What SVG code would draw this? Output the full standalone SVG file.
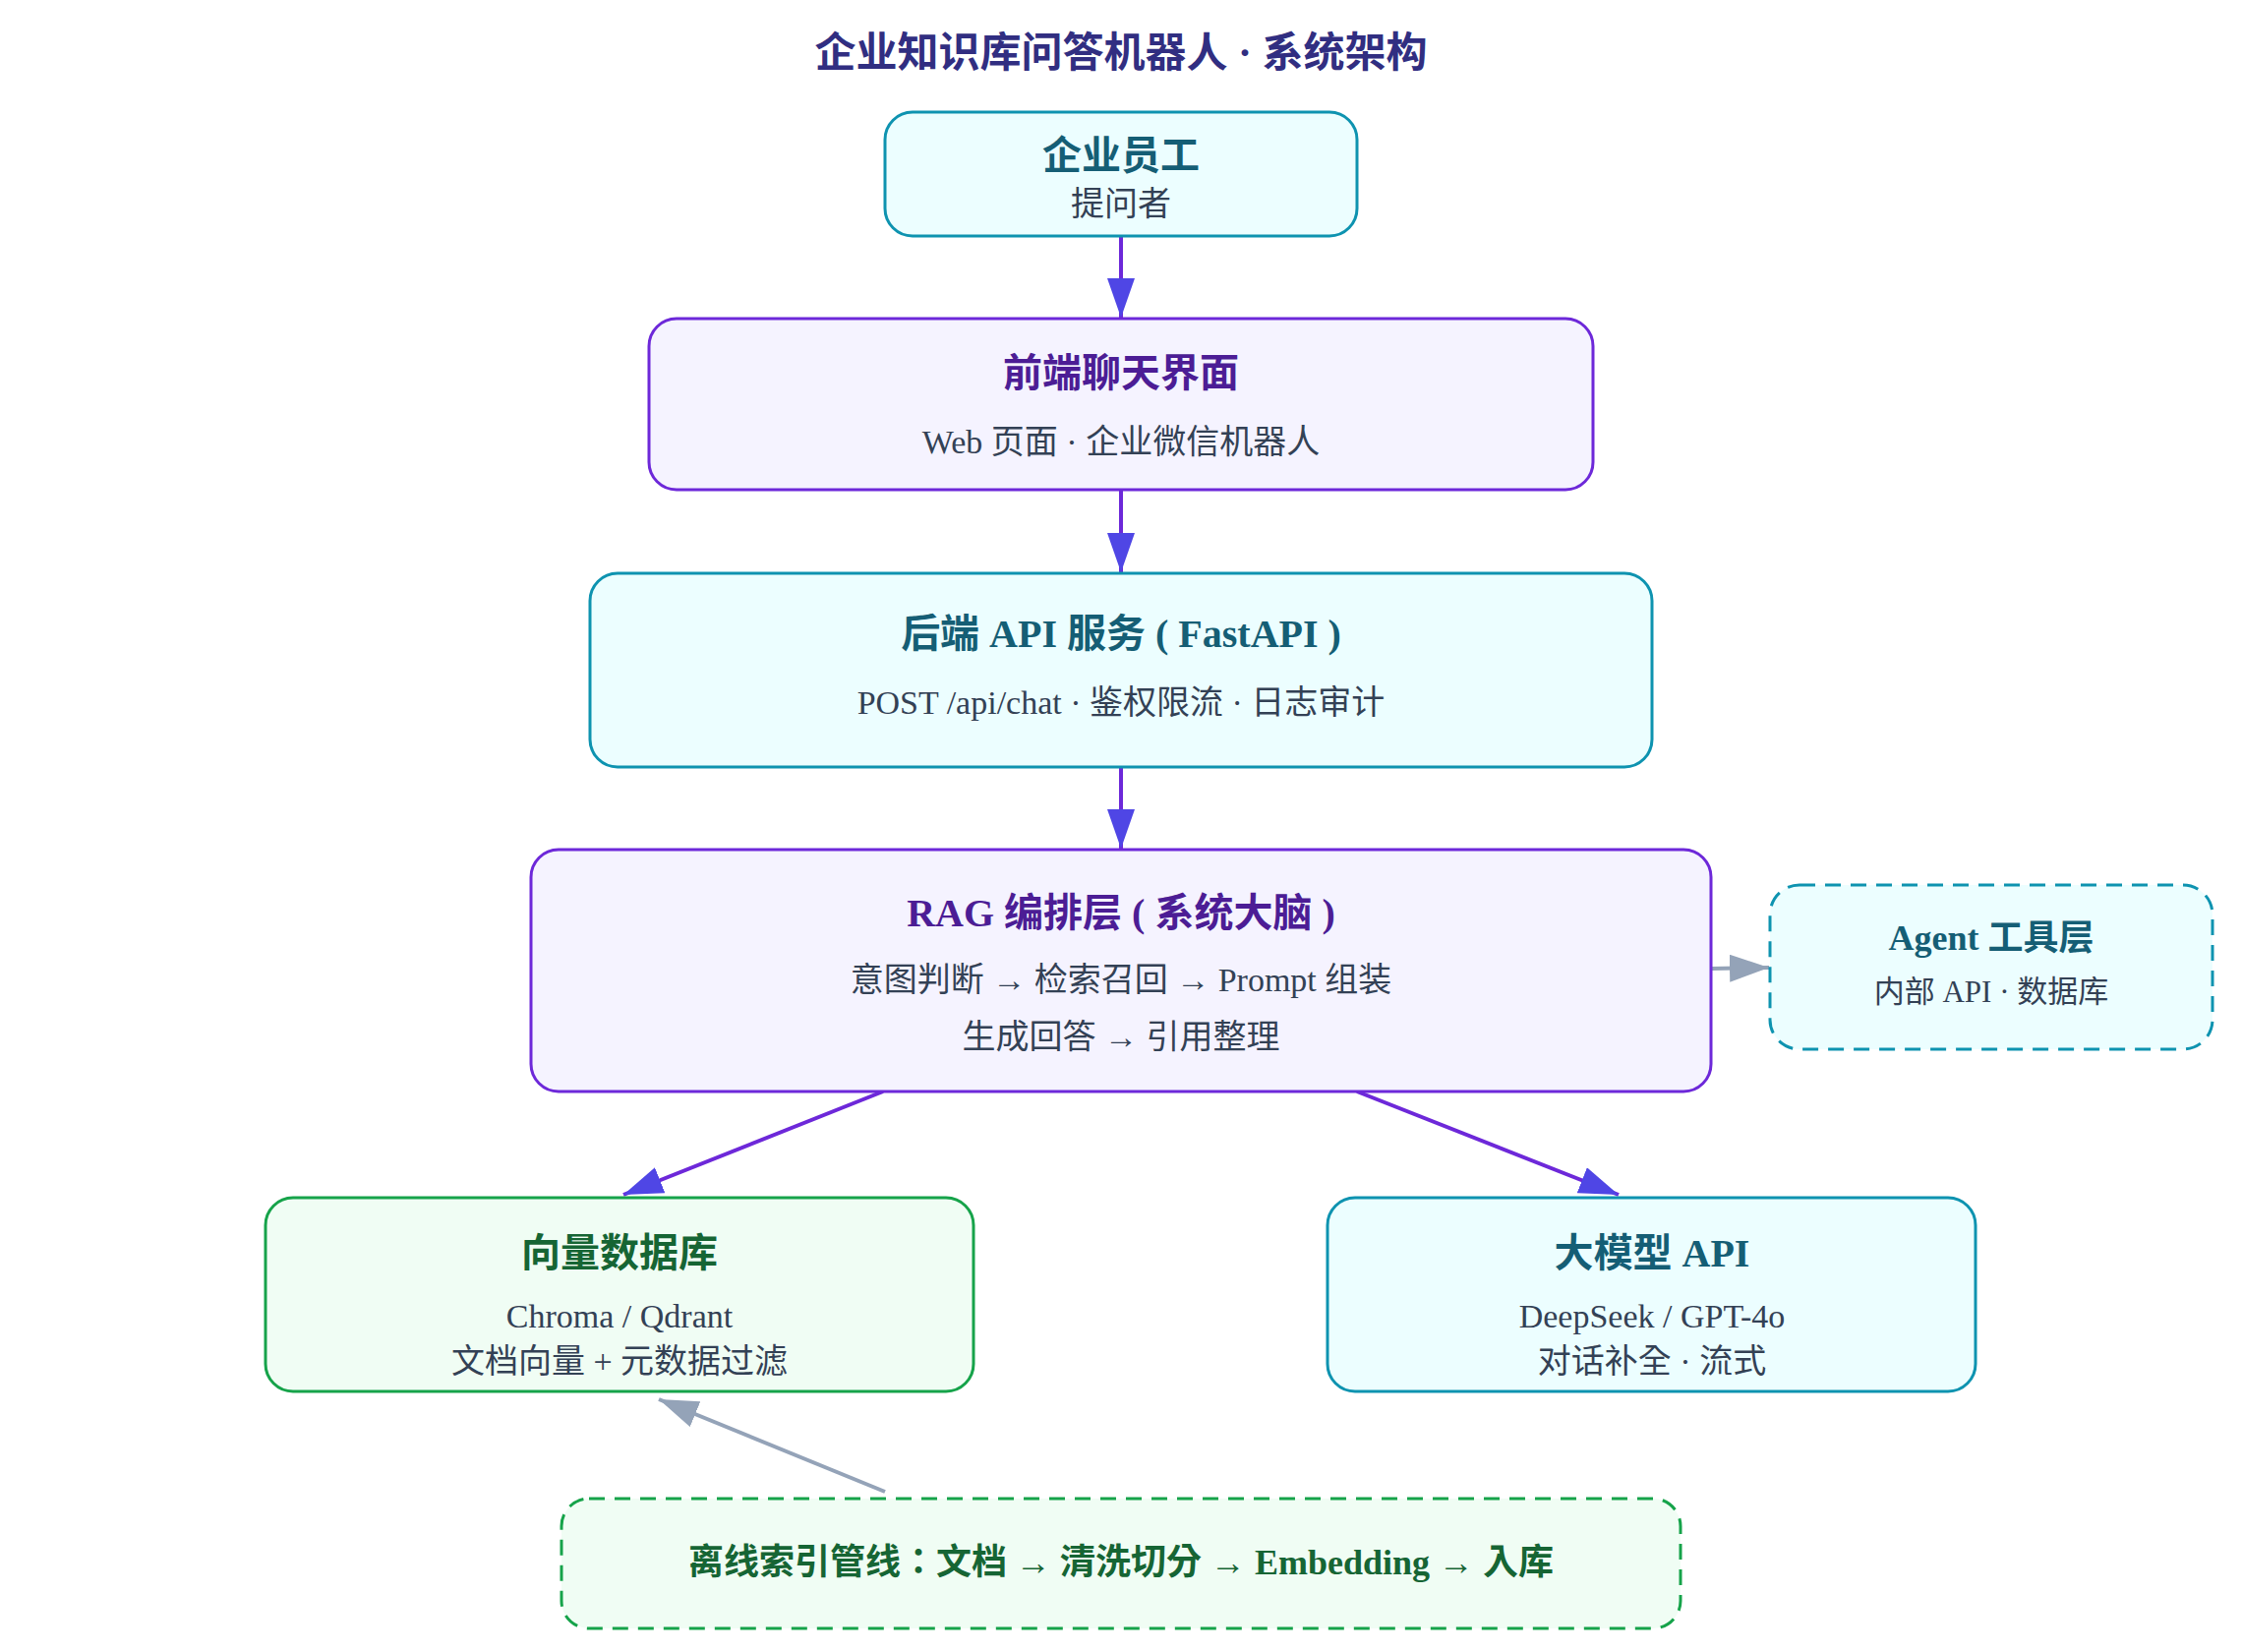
<svg xmlns="http://www.w3.org/2000/svg" width="2280" height="1680" viewBox="0 0 2280 1680">
<style>
text{font-family:"Liberation Serif","Noto Sans CJK TC",serif;text-anchor:middle}
.h{font-size:42px;font-weight:bold;fill:#312e81}
.t{font-size:40px;font-weight:bold}
.ta{font-size:36px;font-weight:bold}
.s{font-size:34px;fill:#334155}
.sa{font-size:31px;fill:#334155}
.teal rect{fill:#ecfeff;stroke:#0e93b0;stroke-width:3}
.teal .t,.teal .ta{fill:#155e75}
.purple rect{fill:#f5f3ff;stroke:#6d28d9;stroke-width:3}
.purple .t{fill:#4c1d95}
.green rect{fill:#f0fdf4;stroke:#16a34a;stroke-width:3}
.green .t,.green .ta{fill:#166534}
.dash rect{stroke-dasharray:16 10}
.main{stroke:#6d28d9;stroke-width:4;fill:none;marker-end:url(#am)}
.aux{stroke:#94a3b8;stroke-width:4;fill:none;marker-end:url(#ag)}
</style>
<defs>
<marker id="am" markerUnits="userSpaceOnUse" markerWidth="40" markerHeight="28" refX="40" refY="14" orient="auto"><path d="M0,0 L40,14 L0,28 z" fill="#4f46e5"/></marker>
<marker id="ag" markerUnits="userSpaceOnUse" markerWidth="40" markerHeight="28" refX="40" refY="14" orient="auto"><path d="M0,0 L40,14 L0,28 z" fill="#94a3b8"/></marker>
</defs>
<rect width="2280" height="1680" fill="#ffffff"/>
<text class="h" x="1140" y="68">企业知识库问答机器人 · 系统架构</text>
<g id="connectors">
<line class="main" x1="1140" y1="240" x2="1140" y2="323"/>
<line class="main" x1="1140" y1="498" x2="1140" y2="582"/>
<line class="main" x1="1140" y1="780" x2="1140" y2="863"/>
<line class="main" x1="898" y1="1110" x2="634" y2="1215"/>
<line class="main" x1="1380" y1="1110" x2="1646" y2="1215"/>
<line class="aux" x1="1741" y1="985" x2="1799" y2="984"/>
<line class="aux" x1="900" y1="1517" x2="670" y2="1423"/>
</g>
<g id="employee" class="teal">
<rect x="900" y="114" width="480" height="126" rx="28"/>
<text class="t" x="1140" y="172">企业员工</text>
<text class="s" x="1140" y="219">提问者</text>
</g>
<g id="frontend" class="purple">
<rect x="660" y="324" width="960" height="174" rx="28"/>
<text class="t" x="1140" y="393">前端聊天界面</text>
<text class="s" x="1140" y="461">Web 页面 · 企业微信机器人</text>
</g>
<g id="backend" class="teal">
<rect x="600" y="583" width="1080" height="197" rx="28"/>
<text class="t" x="1140" y="658">后端 API 服务 ( FastAPI )</text>
<text class="s" x="1140" y="726">POST /api/chat · 鉴权限流 · 日志审计</text>
</g>
<g id="rag" class="purple">
<rect x="540" y="864" width="1200" height="246" rx="28"/>
<text class="t" x="1140" y="942">RAG 编排层 ( 系统大脑 )</text>
<text class="s" x="1140" y="1008">意图判断 → 检索召回 → Prompt 组装</text>
<text class="s" x="1140" y="1066">生成回答 → 引用整理</text>
</g>
<g id="agent" class="teal dash">
<rect x="1800" y="900" width="450" height="167" rx="30"/>
<text class="ta" x="2025" y="966">Agent 工具层</text>
<text class="sa" x="2025" y="1019">内部 API · 数据库</text>
</g>
<g id="vectordb" class="green">
<rect x="270" y="1218" width="720" height="197" rx="28"/>
<text class="t" x="630" y="1288">向量数据库</text>
<text class="s" x="630" y="1350">Chroma / Qdrant</text>
<text class="s" x="630" y="1396">文档向量 + 元数据过滤</text>
</g>
<g id="llm" class="teal">
<rect x="1350" y="1218" width="659" height="197" rx="28"/>
<text class="t" x="1680" y="1288">大模型 API</text>
<text class="s" x="1680" y="1350">DeepSeek / GPT-4o</text>
<text class="s" x="1680" y="1396">对话补全 · 流式</text>
</g>
<g id="offline" class="green dash">
<rect x="571" y="1524" width="1138" height="132" rx="28"/>
<text class="ta" x="1140" y="1601">离线索引管线：文档 → 清洗切分 → Embedding → 入库</text>
</g>
</svg>
